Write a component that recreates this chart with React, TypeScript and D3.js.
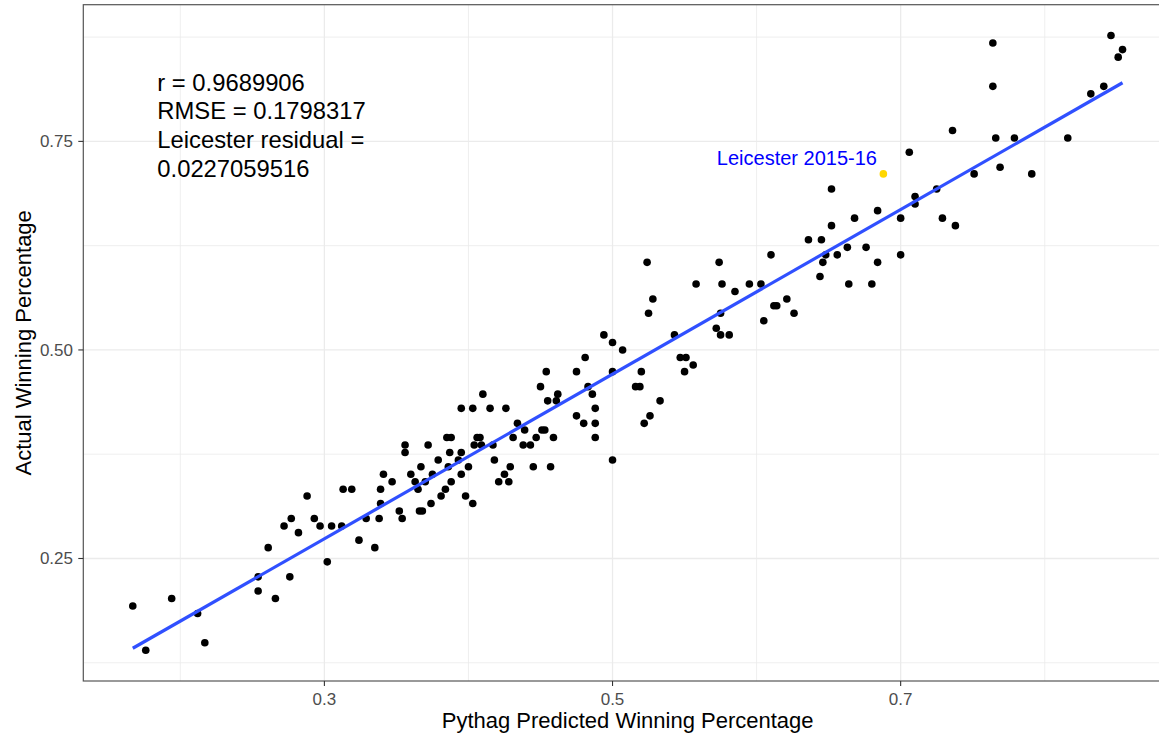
import React from 'react';
import * as d3 from 'd3';

// Pythag predicted winning percentage (x) and actual winning percentage (y)
const pythag = [
  0.176, 0.217, 0.212, 0.167, 0.194, 0.266, 0.254, 0.254, 0.276, 0.302,
  0.261, 0.335, 0.324, 0.282,
  0.272, 0.297, 0.305, 0.312,
  0.277, 0.293, 0.329, 0.338, 0.354,
  0.352, 0.366, 0.368,
  0.339, 0.374, 0.403,
  0.288, 0.381, 0.398,
  0.313, 0.319, 0.339, 0.365, 0.384,
  0.347, 0.363, 0.370, 0.388, 0.421, 0.428,
  0.341, 0.360, 0.375, 0.395, 0.425,
  0.367, 0.386, 0.400, 0.429, 0.445, 0.457,
  0.379, 0.393, 0.418, 0.500,
  0.356, 0.387, 0.395,
  0.356, 0.372, 0.404, 0.409, 0.417, 0.438, 0.443,
  0.385, 0.388, 0.406, 0.408, 0.431, 0.447, 0.459, 0.488,
  0.439, 0.451, 0.453,
  0.434, 0.480, 0.488, 0.522,
  0.475, 0.526,
  0.395, 0.403, 0.415, 0.426, 0.488,
  0.455, 0.461, 0.533,
  0.410, 0.462, 0.486,
  0.450, 0.483, 0.516, 0.519,
  0.454, 0.475, 0.500, 0.520, 0.550,
  0.556,
  0.481, 0.547, 0.551,
  0.507,
  0.500,
  0.494, 0.543, 0.575, 0.581,
  0.572,
  0.605,
  0.525, 0.575, 0.626,
  0.612, 0.614,
  0.528, 0.621,
  0.585,
  0.558, 0.576, 0.595, 0.603, 0.664, 0.680,
  0.644,
  0.524, 0.574, 0.646, 0.684,
  0.610, 0.648, 0.656, 0.700,
  0.663, 0.676,
  0.636, 0.645,
  0.652, 0.738,
  0.668, 0.700, 0.729,
  0.684,
  0.710,
  0.710,
  0.652, 0.725,
  0.751, 0.791,
  0.769,
  0.706,
  0.766, 0.779, 0.816,
  0.736,
  0.832,
  0.764, 0.841,
  0.851,
  0.854,
  0.764,
  0.846,
];

const actual = [
  0.140, 0.149, 0.184, 0.193, 0.202, 0.202, 0.211, 0.228, 0.228, 0.246,
  0.263, 0.263, 0.272, 0.281,
  0.289, 0.289, 0.289, 0.289,
  0.298, 0.298, 0.298, 0.298, 0.298,
  0.307, 0.307, 0.307,
  0.316, 0.316, 0.316,
  0.325, 0.325, 0.325,
  0.333, 0.333, 0.333, 0.333, 0.333,
  0.342, 0.342, 0.342, 0.342, 0.342, 0.342,
  0.351, 0.351, 0.351, 0.351, 0.351,
  0.360, 0.360, 0.360, 0.360, 0.360, 0.360,
  0.368, 0.368, 0.368, 0.368,
  0.377, 0.377, 0.377,
  0.386, 0.386, 0.386, 0.386, 0.386, 0.386, 0.386,
  0.395, 0.395, 0.395, 0.395, 0.395, 0.395, 0.395, 0.395,
  0.404, 0.404, 0.404,
  0.412, 0.412, 0.412, 0.412,
  0.421, 0.421,
  0.430, 0.430, 0.430, 0.430, 0.430,
  0.439, 0.439, 0.439,
  0.447, 0.447, 0.447,
  0.456, 0.456, 0.456, 0.456,
  0.474, 0.474, 0.474, 0.474, 0.474,
  0.482,
  0.491, 0.491, 0.491,
  0.500,
  0.509,
  0.518, 0.518, 0.518, 0.518,
  0.526,
  0.535,
  0.544, 0.544, 0.544,
  0.553, 0.553,
  0.561, 0.561,
  0.570,
  0.579, 0.579, 0.579, 0.579, 0.579, 0.579,
  0.588,
  0.605, 0.605, 0.605, 0.605,
  0.614, 0.614, 0.614, 0.614,
  0.623, 0.623,
  0.632, 0.632,
  0.649, 0.649,
  0.658, 0.658, 0.658,
  0.667,
  0.675,
  0.684,
  0.693, 0.693,
  0.711, 0.711,
  0.719,
  0.737,
  0.754, 0.754, 0.754,
  0.763,
  0.807,
  0.816, 0.816,
  0.851,
  0.860,
  0.868,
  0.877,
];

const leicesterPythag = 0.688;
const leicesterActual = 0.711;
const leicesterLabel = 'Leicester 2015-16';

const xMajor = [0.3, 0.5, 0.7];
const xMinor = [0.2, 0.4, 0.6, 0.8];
const yMajor = [0.25, 0.5, 0.75];
const yMinor = [0.125, 0.375, 0.625, 0.875];
const xTickLabels = ['0.3', '0.5', '0.7'];
const yTickLabels = ['0.25', '0.50', '0.75'];
const statLines = ['r = 0.9689906', 'RMSE = 0.1798317', 'Leicester residual =', '0.0227059516'];
const xTitle = 'Pythag Predicted Winning Percentage';
const yTitle = 'Actual Winning Percentage';

const W = 1159;
const H = 733;
const PL = 83.3;
const PR = 1172;
const PT = 4.7;
const PB = 681;
const FONT = '"Liberation Sans", Arial, Helvetica, sans-serif';

export default function App() {
  const allX = [...pythag, leicesterPythag];
  const allY = [...actual, leicesterActual];
  const [x0, x1] = d3.extent(allX) as [number, number];
  const [y0, y1] = d3.extent(allY) as [number, number];
  const ex = (x1 - x0) * 0.05;
  const ey = (y1 - y0) * 0.05;
  const x = d3.scaleLinear().domain([x0 - ex, x1 + ex]).range([PL, PR]);
  const y = d3.scaleLinear().domain([y0 - ey, y1 + ey]).range([PB, PT]);

  // least squares fit
  const mx = d3.mean(allX) as number;
  const my = d3.mean(allY) as number;
  let sxy = 0, sxx = 0;
  allX.forEach((v, i) => { sxy += (v - mx) * (allY[i] - my); sxx += (v - mx) * (v - mx); });
  const slope = sxy / sxx;
  const intercept = my - slope * mx;
  const fit = d3.line<number>().x((v) => x(v)).y((v) => y(intercept + slope * v));

  const lx = x(leicesterPythag);
  const ly = y(leicesterActual);

  return (
    <svg width={W} height={H} style={{ position: 'absolute', left: 0, top: 0, background: '#fff' }} fontFamily={FONT}>
      <rect x={0} y={0} width={W} height={H} fill="#fff" />
      <defs>
        <clipPath id="panel">
          <rect x={PL} y={PT} width={PR - PL} height={PB - PT} />
        </clipPath>
      </defs>
      <g>
        {xMinor.map((v) => (
          <line key={'xm' + v} x1={x(v)} x2={x(v)} y1={PT} y2={PB} stroke="#ebebeb" strokeWidth={0.8} />
        ))}
        {yMinor.map((v) => (
          <line key={'ym' + v} x1={PL} x2={PR} y1={y(v)} y2={y(v)} stroke="#ebebeb" strokeWidth={0.8} />
        ))}
        {xMajor.map((v) => (
          <line key={'xM' + v} x1={x(v)} x2={x(v)} y1={PT} y2={PB} stroke="#ebebeb" strokeWidth={1.3} />
        ))}
        {yMajor.map((v) => (
          <line key={'yM' + v} x1={PL} x2={PR} y1={y(v)} y2={y(v)} stroke="#ebebeb" strokeWidth={1.3} />
        ))}
      </g>
      <g clipPath="url(#panel)">
        {pythag.map((v, i) => (
          <circle key={i} cx={x(v)} cy={y(actual[i])} r={3.8} fill="#000" />
        ))}
        <circle cx={lx} cy={ly} r={3.8} fill="#FFD700" />
        <path d={fit([d3.min(allX) as number, d3.max(allX) as number]) || ''} stroke="#3050FF" strokeWidth={3.2} fill="none" />
      </g>
      <text x={lx - 6.4} y={ly - 8.8} textAnchor="end" fontSize={20} fill="#0000FF">{leicesterLabel}</text>
      {statLines.map((s, i) => (
        <text key={i} x={157.3} y={90.7 + i * 28.67} fontSize={23.8} fill="#000">{s}</text>
      ))}
      <rect x={PL} y={PT} width={PR - PL} height={PB - PT} fill="none" stroke="#555" strokeWidth={1.2} />
      {xMajor.map((v, i) => (
        <g key={'xt' + v}>
          <line x1={x(v)} x2={x(v)} y1={PB} y2={PB + 5} stroke="#333" strokeWidth={1.1} />
          <text x={x(v)} y={705} textAnchor="middle" fontSize={17} fill="#4d4d4d">{xTickLabels[i]}</text>
        </g>
      ))}
      {yMajor.map((v, i) => (
        <g key={'yt' + v}>
          <line x1={PL - 5} x2={PL} y1={y(v)} y2={y(v)} stroke="#333" strokeWidth={1.1} />
          <text x={73} y={y(v)} dy="0.35em" textAnchor="end" fontSize={17} fill="#4d4d4d">{yTickLabels[i]}</text>
        </g>
      ))}
      <text x={(PL + PR) / 2} y={728} textAnchor="middle" fontSize={22} fill="#000">{xTitle}</text>
      <text transform={`translate(31, ${(PT + PB) / 2}) rotate(-90)`} textAnchor="middle" fontSize={22} fill="#000">{yTitle}</text>
    </svg>
  );
}
